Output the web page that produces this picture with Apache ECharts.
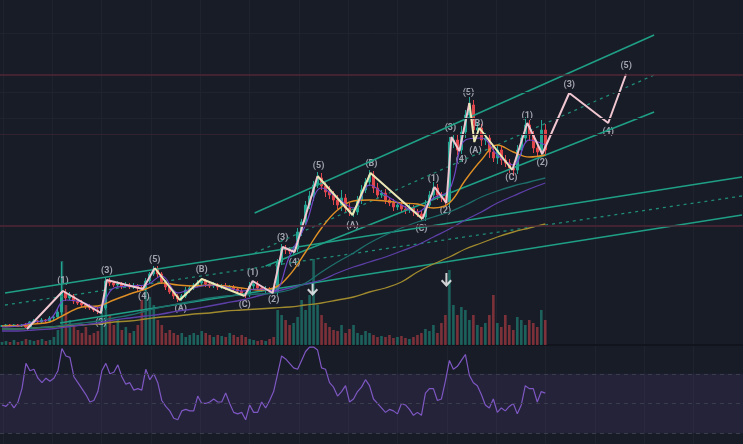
<!DOCTYPE html>
<html>
<head>
<meta charset="UTF-8">
<title></title>
<script src="https://cdn.jsdelivr.net/npm/echarts@6/dist/echarts.min.js"></script>
<style>html,body{margin:0;padding:0;background:#181c27}#chart{width:743px;height:444px}</style>
</head>
<body>
<div id="chart"></div>
<script type="text/javascript">
// closing prices, one per bar
var closes = [19,20,19,20,19,20,18,23,24,23, 25,24,27,28,33,53,47,49,44,42,
	40,39,37,35,34,37,64,62,60,61, 59,60,58,59,57,56,64,71,76,71,
	63,58,53,49,46,49,55,57,60,62, 64,61,59,60,58,59,57,58,56,54,
	51,50,59,61,57,55,56,54,53,83, 97,95,94,96,113,123,140,149,160,167,
	159,153,150,145,140,147,137,133,133,145, 155,163,170,157,150,152,145,142,138,140,
	136,135,137,133,131,128,140,150,157,150, 147,143,203,205,195,213,230,240,215,217,
	205,207,193,187,195,185,182,177,175,195, 207,220,210,197,193,215,195];
var wickUp = [1,1,1,1,1,1,2,1,2,1, 2,1,2,2,3,30,3,4,2,2, 3,2,2,2,3,3,4,3,2,3,
	2,3,2,3,2,2,3,2,3,3, 2,2,3,2,2,2,3,2,2,3, 3,2,2,3,2,2,3,2,2,2,
	3,2,4,2,3,2,3,2,2,3, 4,3,3,3,4,3,4,5,4,6, 5,4,6,4,5,8,4,5,3,4,
	5,4,5,4,5,3,4,3,4,3, 4,3,4,3,3,3,5,4,6,4, 3,4,5,6,5,6,5,8,5,6,
	4,5,4,6,5,4,5,4,3,5, 4,8,5,4,3,10,6];
var wickDn = [1,1,1,1,1,1,2,1,1,2, 1,2,1,2,2,3,3,2,3,2, 2,3,2,2,3,3,2,3,2,2,
	3,2,2,2,3,2,2,3,2,3, 2,3,2,3,3,2,2,3,2,2, 2,3,2,2,3,2,2,3,2,3,
	2,3,2,3,2,2,3,2,2,3, 3,4,3,3,3,4,3,4,5,3, 4,5,4,5,4,6,5,4,5,3,
	4,3,4,5,4,3,4,3,4,3, 3,4,3,4,3,4,4,3,4,5, 4,3,5,6,5,4,6,4,7,5,
	6,5,6,4,6,5,4,5,6,4, 5,4,6,5,4,5,6];
var volumes = [3,4,3,5,3,4,6,5,4,5, 6,4,5,8,15,84,40,25,20,15, 12,18,10,12,14,35,50,30,20,25,
	15,18,12,14,20,45,55,48,40,25, 20,12,15,12,10,12,8,10,12,10, 14,12,10,8,10,9,8,12,10,8,
	10,8,6,5,4,5,4,6,8,35, 30,25,20,22,28,45,35,50,86,40, 30,22,18,15,14,20,12,16,20,12,
	10,14,12,10,8,9,8,10,7,8, 9,7,6,8,10,12,16,14,20,12, 22,30,75,40,30,38,35,25,30,20,
	18,22,30,50,22,18,30,20,15,28, 25,20,25,22,18,35,25];
var rsi = [49,48,51,47,51,60,77,72,73,67, 64,67,65,67,72,87,82,81,68,64,
	60,56,51,52,58,72,77,70,71,76, 68,63,64,59,60,59,73,66,70,64,
	52,48,45,40,39,45,46,45,45,55, 50,50,51,53,51,51,57,50,44,43,
	44,39,49,44,44,51,47,52,58,70, 82,80,77,74,73,79,85,88,88,86,
	74,73,64,61,55,58,62,51,53,58, 61,66,62,53,50,47,44,46,45,43,
	50,49,46,42,44,42,57,60,60,52, 53,65,79,73,75,79,83,69,64,62,
	56,49,47,53,44,47,45,48,50,43, 49,62,60,60,51,58,57];

// moving averages, one value every 4 bars
var maStep = 4;
var maOrange = [19,19,21,23,31,38,39,45,51,56,62,60,59,60,59,57,55,57,70,93,117,135,144,145,144,142,141,137,142,165,185,200,193,188,190];
var maFast = [18,19,23,26,45,43,37,57,59,60,69,52,57,60,58,54,56,54,89,120,157,147,137,160,150,140,133,147,155,205,207,190,180,205,200];
var maTeal = [16,16,17,18,20,22,24,27,30,34,38,41,44,47,49,50,51,52,55,62,73,83,92,102,110,117,123,128,133,140,148,154,159,163,167];
var maPurple = [14,14,15,16,18,20,22,25,27,29,31,34,36,39,42,45,49,53,57,61,65,72,78,83,88,94,100,108,116,125,133,142,149,156,162];
var maOlive = [16,16,17,18,19,20,21,23,24,26,28,29,31,32,34,35,36,37,38,40,42,45,48,53,57,63,73,81,88,96,102,108,113,117,121];

// trend lines [bar, price]
var trendTop = [[0.75,52],[185.25,168]];
var trendMid = [[0.75,40],[185.25,149]];
var trendLow = [[14.5,22],[185.25,130]];
var chanTop = [[63.25,132],[163.25,310]];
var chanMid = [[63.25,92],[163.25,270]];
var chanLow = [[66,79],[163.25,233]];
var levels = [270,119];
var levelFaint = [211];
var gridLevels = [312,253,227];

// elliott waves
var impulse1 = [[6.25,16],[15.25,54],[24.75,32],[26.25,65],[35.25,56],[38.25,77]];
var correct1 = [[38.25,77],[44.5,45],[50,66],[60.75,49]];
var impulse2 = [[60.75,49],[62.75,64],[67.75,52],[70.25,98],[73.25,93],[79,169]];
var correct2 = [[79,169],[87.75,130],[92.25,172],[105.25,126]];
var impulse3 = [[105.25,126],[108.25,158],[111.25,142],[112.5,208],[114.5,194],[117,242]];
var correct3 = [[117,242],[118.25,203],[119.5,217],[127.75,175]];
var impulse4 = [[127.75,175],[131.5,222],[135.25,191],[142,252],[151.75,222],[156.25,271]];
var waveLabels = [
	[15.25,64,'(1)'],[24.75,22,'(2)'],[26.25,74,'(3)'],[35.5,48,'(4)'],[38.25,85,'(5)'],
	[44.75,36,'(A)'],[50,75,'(B)'],[60.75,40,'(C)'],
	[62.75,72,'(1)'],[68,45,'(2)'],[70.25,107,'(3)'],[73.25,82,'(4)'],[79.25,179,'(5)'],
	[87.75,119,'(A)'],[92.5,181,'(B)'],[105,116,'(C)'],
	[108,166,'(1)'],[111,134,'(2)'],[112.25,217,'(3)'],[115,185,'(4)'],[116.75,252,'(5)'],
	[118.5,194,'(A)'],[119,221,'(B)'],[127.5,167,'(C)'],
	[131.5,229,'(1)'],[135.25,182,'(2)'],[142,260,'(3)'],[151.75,213,'(4)'],[156.25,279,'(5)']
];
var arrows = [[77.75,56],[111.25,65]];

var UP = '#22a592', DOWN = '#e0464b';
var nCat = 186;
var cats = [];
for (var i = 0; i < nCat; i++) cats.push(i);

var candles = [], vols = [];
for (var i = 0; i < closes.length; i++) {
	var o = i == 0 ? closes[0] : closes[i - 1];
	var c = closes[i];
	candles.push([o, c, Math.min(o, c) - wickDn[i], Math.max(o, c) + wickUp[i]]);
	vols.push({value: volumes[i], itemStyle: {color: c >= o ? 'rgba(34,165,146,0.5)' : 'rgba(224,70,75,0.5)'}});
}
function maData(arr) {
	var out = [];
	for (var k = 0; k < arr.length; k++) out.push([k * maStep, arr[k]]);
	return out;
}
var rsiData = [];
for (var i = 0; i < rsi.length; i++) rsiData.push([i, rsi[i]]);

function line(data, color, width, type, xi, yi) {
	return {
		type: 'line', xAxisIndex: xi == null ? 1 : xi, yAxisIndex: yi == null ? 0 : yi,
		data: data, symbol: 'none', silent: true, smooth: false,
		lineStyle: {color: color, width: width, type: type || 'solid'}
	};
}
function maLine(arr, color, width) {
	var s = line(maData(arr), color, width);
	s.smooth = 0.4;
	return s;
}

var myChart = echarts.init(document.getElementById('chart'));
var hidden = {show: false};
var option = {
	backgroundColor: '#181c27',
	animation: false,
	grid: [
		{left: 0, right: 0, top: 0, height: 345},
		{left: 0, right: 0, top: 245, height: 100},
		{left: 0, right: 0, top: 346, height: 98},
		{left: 3, right: 0, top: 0, bottom: 0}
	],
	xAxis: [
		{type: 'category', gridIndex: 0, data: cats, axisLine: hidden, axisTick: hidden, axisLabel: hidden, splitLine: hidden},
		{type: 'value', gridIndex: 0, min: -0.5, max: 185.5, axisLine: hidden, axisTick: hidden, axisLabel: hidden, splitLine: hidden},
		{type: 'category', gridIndex: 1, data: cats, axisLine: {show: true, lineStyle: {color: '#11141c', width: 2}}, axisTick: hidden, axisLabel: hidden},
		{type: 'value', gridIndex: 2, min: -0.5, max: 185.5, axisLine: hidden, axisTick: hidden, axisLabel: hidden, splitLine: hidden},
		{type: 'value', gridIndex: 3, min: 0, max: 15, interval: 1, axisLine: hidden, axisTick: hidden, axisLabel: hidden,
			splitLine: {show: true, lineStyle: {color: '#1f232e', width: 1}}}
	],
	yAxis: [
		{type: 'value', gridIndex: 0, min: 0, max: 345, axisLine: hidden, axisTick: hidden, axisLabel: hidden, splitLine: hidden},
		{type: 'value', gridIndex: 1, min: 0, max: 100, axisLine: hidden, axisTick: hidden, axisLabel: hidden, splitLine: hidden},
		{type: 'value', gridIndex: 2, min: 22.7, max: 88.7, axisLine: hidden, axisTick: hidden, axisLabel: hidden, splitLine: hidden},
		{type: 'value', gridIndex: 3, min: 0, max: 1, axisLine: hidden, axisTick: hidden, axisLabel: hidden, splitLine: hidden}
	],
	series: [
		{type: 'line', xAxisIndex: 4, yAxisIndex: 3, data: [], silent: true},
		{
			type: 'bar', xAxisIndex: 2, yAxisIndex: 1, data: vols, barWidth: 2.6, silent: true
		},
		{
			type: 'line', xAxisIndex: 1, yAxisIndex: 0, data: [], silent: true,
			markLine: {
				symbol: 'none', silent: true, label: hidden,
				data: levels.map(function (v) { return {yAxis: v, lineStyle: {color: '#4f2636', width: 1.5, type: 'solid'}}; })
					.concat(levelFaint.map(function (v) { return {yAxis: v, lineStyle: {color: '#33212d', width: 1, type: 'solid'}}; }))
					.concat(gridLevels.map(function (v) { return {yAxis: v, lineStyle: {color: '#1f232e', width: 1, type: 'solid'}}; }))
			}
		},
		line(trendTop, '#1f9f86', 1.6),
		line(trendMid, '#1f8a76', 1.3, [3, 4]),
		line(trendLow, '#1f9f86', 1.6),
		line(chanTop, '#1f9f86', 1.6),
		line(chanMid, '#1f8a76', 1.3, [3, 4]),
		line(chanLow, '#1f9f86', 1.6),
		maLine(maOlive, '#a08a2e', 1.3),
		maLine(maPurple, '#5d3fa8', 1.3),
		maLine(maTeal, '#1d6f6c', 1.3),
		maLine(maOrange, '#de8f25', 1.4),
		maLine(maFast, '#7046c6', 1.2),
		{
			type: 'candlestick', xAxisIndex: 0, yAxisIndex: 0, data: candles, barWidth: 2.6, silent: true,
			itemStyle: {color: UP, color0: DOWN, borderColor: UP, borderColor0: DOWN, borderWidth: 1}
		},
		line(impulse1, '#f0c6d0', 2),
		line(correct1, '#ebe8b6', 2),
		line(impulse2, '#f0c6d0', 2),
		line(correct2, '#ebe8b6', 2),
		line(impulse3, '#f0c6d0', 2),
		line(correct3, '#ebe8b6', 2),
		line(impulse4, '#f0c6d0', 2),
		{
			type: 'scatter', xAxisIndex: 1, yAxisIndex: 0, symbolSize: 0, silent: true,
			data: waveLabels.map(function (d) { return {value: [d[0], d[1]], name: d[2]}; }),
			label: {show: true, position: 'inside', formatter: '{b}', color: '#c4c7cf', fontSize: 9, fontWeight: 'bold', fontFamily: 'Roboto'}
		},
		{
			type: 'scatter', xAxisIndex: 1, yAxisIndex: 0, silent: true, data: arrows,
			symbol: 'path://M4,0 L6,0 L6,9 L9,6 L10.5,7.5 L5,13 L-0.5,7.5 L1,6 L4,9 Z',
			symbolSize: [11, 14], itemStyle: {color: '#ffffff'}
		},
		{
			type: 'line', xAxisIndex: 3, yAxisIndex: 2, data: rsiData, symbol: 'none', silent: true,
			lineStyle: {color: '#7e57c2', width: 1.2},
			markArea: {silent: true, itemStyle: {color: 'rgba(126,87,194,0.12)'}, data: [[{yAxis: 30}, {yAxis: 70}]]},
			markLine: {
				symbol: 'none', silent: true, label: hidden,
				lineStyle: {color: '#3a3d4a', type: [4, 4], width: 1},
				data: [{yAxis: 70}, {yAxis: 50}, {yAxis: 30}]
			}
		}
	]
};
myChart.setOption(option);
</script>
</body>
</html>
